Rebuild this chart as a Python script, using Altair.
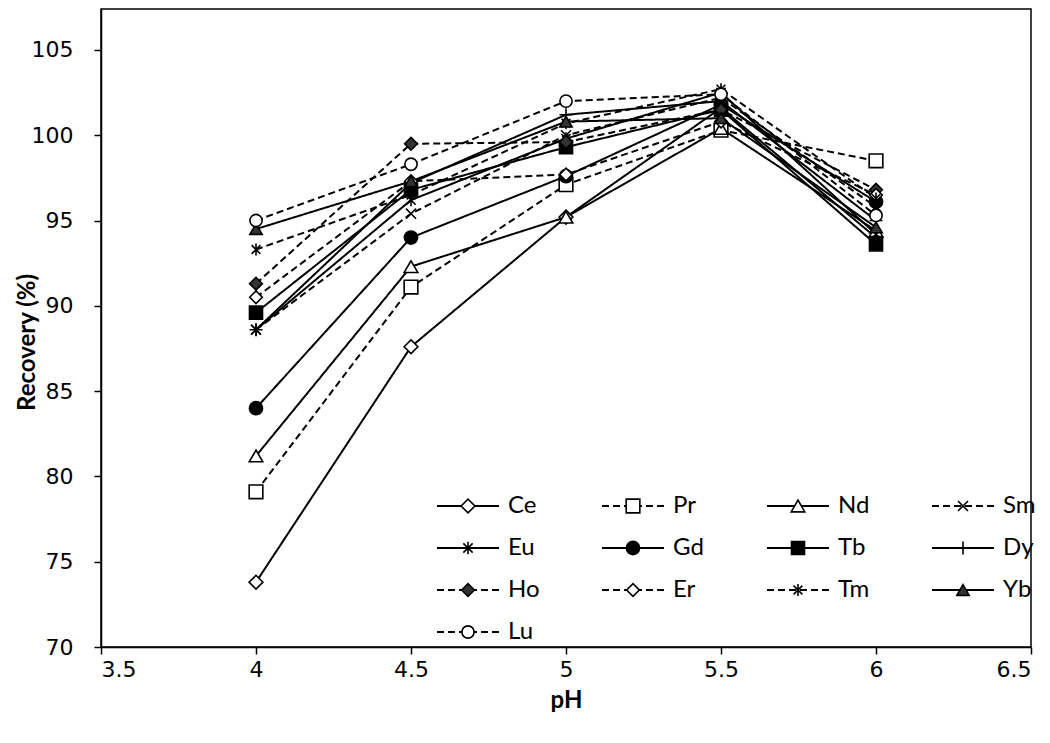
import altair as alt
import pandas as pd

ph = [4.0, 4.5, 5.0, 5.5, 6.0]

elements = ["Ce", "Pr", "Nd", "Sm", "Eu", "Gd", "Tb", "Dy", "Ho", "Er", "Tm", "Yb", "Lu"]

ce = [73.8, 87.6, 95.2, 101.6, 94.0]
pr = [79.1, 91.1, 97.1, 100.3, 98.5]
nd = [81.2, 92.3, 95.2, 100.4, 94.4]
sm = [88.6, 95.4, 100.0, 102.2, 95.8]
eu = [88.6, 96.2, 99.8, 102.5, 94.2]
gd = [84.0, 94.0, 97.6, 101.8, 96.1]
tb = [89.6, 96.8, 99.3, 101.5, 93.6]
dy = [88.6, 97.2, 101.2, 102.0, 95.0]
ho = [91.3, 99.5, 99.6, 101.5, 96.8]
er = [90.5, 97.3, 97.7, 100.8, 96.5]
tm = [93.3, 96.5, 100.7, 102.7, 96.3]
yb = [94.5, 97.3, 100.8, 101.0, 94.6]
lu = [95.0, 98.3, 102.0, 102.4, 95.3]

series = [ce, pr, nd, sm, eu, gd, tb, dy, ho, er, tm, yb, lu]

dashed = ["Pr", "Sm", "Ho", "Er", "Tm", "Lu"]

rows = []
for el, vals in zip(elements, series):
    for x, v in zip(ph, vals):
        rows.append({"element": el, "pH": x, "recovery": v})
df = pd.DataFrame(rows)

# marker styles
X_PATH = "M-0.75,-0.75L0.75,0.75M-0.75,0.75L0.75,-0.75"
STAR_PATH = "M-0.7,-0.7L0.7,0.7M-0.7,0.7L0.7,-0.7M0,-0.95L0,0.95"
PLUS_PATH = "M-1,0L1,0M0,-1L0,1"
shapes = ["diamond", "square", "triangle-up", X_PATH, STAR_PATH, "circle", "square",
          PLUS_PATH, "diamond", "diamond", STAR_PATH, "triangle-up", "circle"]
fills = ["white", "white", "white", "white", "white", "black", "black",
         "white", "#333333", "white", "white", "#333333", "white"]
sizes = [190, 150, 190, 190, 200, 220, 150, 220, 190, 190, 200, 200, 190]
dash_range = [[7, 4] if e in dashed else [1, 0] for e in elements]
width_range = [3 if e == "Yb" else 2 for e in elements]

W, H = 930, 638

dash_scale = alt.Scale(domain=elements, range=dash_range)
wid_scale = alt.Scale(domain=elements, range=width_range)
shape_scale = alt.Scale(domain=elements, range=shapes)
fill_scale = alt.Scale(domain=elements, range=fills)
size_scale = alt.Scale(domain=elements, range=sizes)

xs = alt.Scale(domain=[3.5, 6.5], nice=False, zero=False)
ys = alt.Scale(domain=[70, 107.4], nice=False, zero=False)

x_enc = alt.X("pH:Q", scale=xs,
              axis=alt.Axis(values=[3.5, 4, 4.5, 5, 5.5, 6, 6.5], format="~g", title="pH",
                            grid=False, tickSize=7, labelPadding=5,
                            titleY=53, titleBaseline="middle"))
y_enc = alt.Y("recovery:Q", scale=ys,
              axis=alt.Axis(values=[70, 75, 80, 85, 90, 95, 100, 105], title="Recovery (%)",
                            grid=False, tickSize=7, labelPadding=21,
                            titleX=-74, titleY=333, titleAngle=-90,
                            titleAlign="center", titleBaseline="middle"))

lines = alt.Chart(df).mark_line(color="black").encode(
    x=x_enc, y=y_enc,
    detail="element:N",
    strokeDash=alt.StrokeDash("element:N", scale=dash_scale, legend=None),
    strokeWidth=alt.StrokeWidth("element:N", scale=wid_scale, legend=None),
    order="pH:Q",
)

points = alt.Chart(df).mark_point(stroke="black", strokeWidth=1.6, opacity=1, filled=False).encode(
    x="pH:Q", y="recovery:Q",
    shape=alt.Shape("element:N", scale=shape_scale, legend=None),
    fill=alt.Fill("element:N", scale=fill_scale, legend=None),
    size=alt.Size("element:N", scale=size_scale, legend=None),
)

# manual legend (4 columns)
leg_rows = []
for i, el in enumerate(elements):
    c, r = i % 4, i // 4
    x0 = 336 + c * 165
    y0 = 497 + r * 42
    leg_rows.append({"element": el, "lx0": x0, "lx1": x0 + 62, "lxm": x0 + 31,
                     "ltx": x0 + 71, "ly": y0})
leg = pd.DataFrame(leg_rows)

lxs = alt.Scale(domain=[0, W], nice=False, zero=False)
lys = alt.Scale(domain=[H, 0], nice=False, zero=False)

leg_lines = alt.Chart(leg).mark_rule(color="black").encode(
    x=alt.X("lx0:Q", scale=lxs, axis=None),
    x2="lx1:Q",
    y=alt.Y("ly:Q", scale=lys, axis=None),
    strokeDash=alt.StrokeDash("element:N", scale=dash_scale, legend=None),
    strokeWidth=alt.StrokeWidth("element:N", scale=wid_scale, legend=None),
)
leg_pts = alt.Chart(leg).mark_point(stroke="black", strokeWidth=1.6, opacity=1, filled=False).encode(
    x=alt.X("lxm:Q", scale=lxs, axis=None),
    y=alt.Y("ly:Q", scale=lys, axis=None),
    shape=alt.Shape("element:N", scale=shape_scale, legend=None),
    fill=alt.Fill("element:N", scale=fill_scale, legend=None),
    size=alt.Size("element:N", scale=size_scale, legend=None),
)
leg_text = alt.Chart(leg).mark_text(align="left", baseline="middle", font="Lato",
                                    fontSize=24, color="black").encode(
    x=alt.X("ltx:Q", scale=lxs, axis=None),
    y=alt.Y("ly:Q", scale=lys, axis=None),
    text="element:N",
)

main = alt.layer(lines, points)
legend = alt.layer(leg_lines, leg_pts, leg_text)

chart = alt.layer(main, legend).resolve_scale(x="independent", y="independent").properties(
    width=W, height=H,
    autosize=alt.AutoSizeParams(type="none"),
    padding={"left": 93, "top": 1, "right": 10, "bottom": 80},
).configure_view(stroke="black", strokeWidth=1.5).configure_axis(
    domainColor="black", domainWidth=1.5, tickColor="black", tickWidth=1.5,
    labelFont="DejaVu Sans", labelFontSize=22, labelColor="black",
    titleFont="Lato", titleFontSize=24, titleFontWeight="bold", titleColor="black",
)

chart.save("out.html", embed_options={"renderer": "svg", "actions": False})
